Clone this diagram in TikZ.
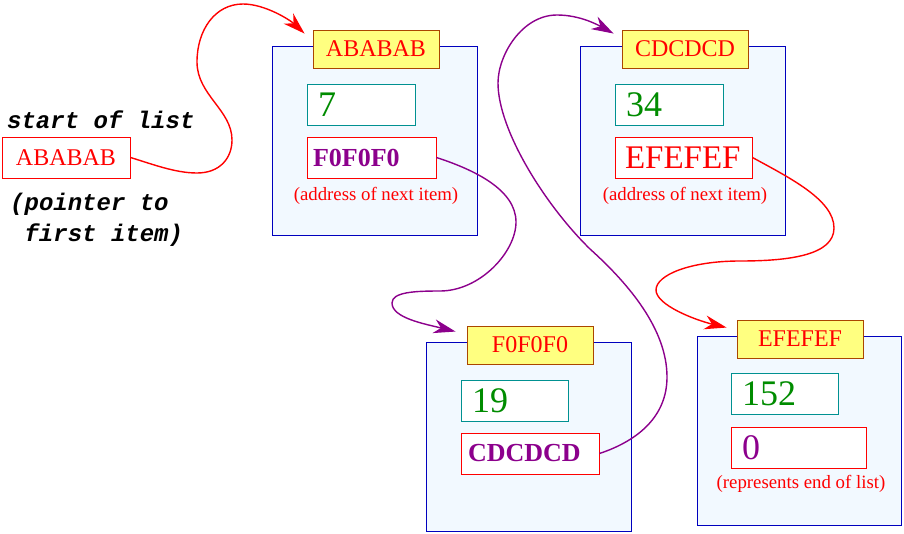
\documentclass[tikz,border=0pt]{standalone}
\usepackage{fontspec}
\setmainfont{Liberation Serif}
\newfontfamily\monofont{Liberation Mono}
\usetikzlibrary{arrows.meta,calc}
\definecolor{boxblue}{RGB}{0,0,190}
\definecolor{boxfill}{RGB}{242,249,255}
\definecolor{labfill}{RGB}{255,255,128}
\definecolor{labborder}{RGB}{170,70,0}
\definecolor{tealc}{RGB}{0,145,145}
\definecolor{valgreen}{RGB}{0,140,0}
\definecolor{ptrpurple}{RGB}{140,0,140}
\begin{document}
\begin{tikzpicture}[x=1pt,y=-1pt,
  outer/.style={draw=boxblue, fill=boxfill, line width=0.9pt, inner sep=0pt, minimum width=205pt, minimum height=189pt},
  lab/.style={draw=labborder, fill=labfill, line width=0.9pt, text=red, font=\fontsize{24pt}{24pt}\selectfont, minimum width=126pt, minimum height=38pt, inner sep=0pt},
  valbox/.style={draw=tealc, fill=white, line width=0.9pt, text=valgreen, font=\fontsize{36pt}{36pt}\selectfont, minimum height=41pt, inner xsep=11pt, inner ysep=0pt, align=left},
  ptrbox/.style={draw=red, fill=white, line width=0.9pt, minimum height=41pt, inner ysep=0pt, align=left},
  bigptr/.style={text=ptrpurple, font=\fontsize{26pt}{26pt}\selectfont\bfseries},
  caption/.style={text=red, font=\fontsize{18.8pt}{19pt}\selectfont, inner sep=0pt, anchor=base},
  mono/.style={font=\monofont\bfseries\itshape\fontsize{24pt}{24pt}\selectfont, inner sep=0pt, anchor=base west},
  conn/.style={line width=1.4pt, -{Stealth[length=22pt,width=14pt,inset=7pt]}},
]
\useasboundingbox (0,0) rectangle (904,533);

% start of list
\node[mono] (t1) at (7,128) {start of list};
\node[ptrbox, minimum width=128pt, text=red, font=\fontsize{24pt}{24pt}\selectfont, align=center, inner xsep=0pt] (start) at (66,157.5) {ABABAB};
\node[mono] (t2) at (10,210) {(pointer to};
\node[mono] (t3) at (24.4,241) {first item)};

% item ABABAB
\node[outer] (o1) at (374.5,140.5) {};
\node[lab] (lab1) at (376,49) {ABABAB};
\node[valbox, text width=86pt] (v1) at (361,104.5) {7};
\node[ptrbox, bigptr, inner xsep=6pt, text width=117pt] (p1) at (371.5,157.5) {F0F0F0};
\node[caption] (c1) at (376,200) {(address of next item)};

% item CDCDCD
\node[outer] (o2) at (683,140.5) {};
\node[lab] (lab2) at (685,49) {CDCDCD};
\node[valbox, text width=86pt] (v2) at (669,104.5) {34};
\node[ptrbox, text=red, font=\fontsize{33pt}{33pt}\selectfont, inner xsep=10pt, text width=117pt] (p2) at (683.5,157.5) {EFEFEF};
\node[caption] (c2) at (685,200) {(address of next item)};

% item F0F0F0
\node[outer] (o3) at (528.5,436.5) {};
\node[lab] (lab3) at (530,345) {F0F0F0};
\node[valbox, text width=85pt] (v3) at (514.5,400.5) {19};
\node[ptrbox, bigptr, inner xsep=7pt, text width=124pt] (p3) at (530,453.5) {CDCDCD};

% item EFEFEF
\node[outer, minimum width=204pt] (o4) at (799,430.5) {};
\node[lab] (lab4) at (800,339) {EFEFEF};
\node[valbox, text width=85pt] (v4) at (784.5,393.5) {152};
\node[ptrbox, text=ptrpurple, font=\fontsize{36pt}{36pt}\selectfont, inner xsep=11pt, text width=113pt] (p4) at (798.5,447.5) {0};
\node[caption] (c4) at (801,488) {(represents end of list)};

% arrow targets
\coordinate (a1) at ($(lab1.north west)+(-8,4)$);
\coordinate (a2) at ($(lab2.north west)+(-8,4)$);
\coordinate (a3) at ($(lab3.north west)+(-11,6)$);
\coordinate (a4) at ($(lab4.north west)+(-10,8)$);

% connectors
\draw[conn, red] (start.east)
  .. controls (152,164) and (175,173) .. (197,173)
  .. controls (220,173) and (232,158) .. (232,140)
  .. controls (232,110) and (197,95) .. (197,62)
  .. controls (197,30) and (215,4) .. (243,4)
  .. controls (265,4) and (290,20) .. (a1);

\draw[conn, ptrpurple] (p1.east)
  .. controls (475,170) and (516,190) .. (516,222)
  .. controls (516,252) and (480,291) .. (440,291)
  .. controls (415,291) and (392,292) .. (392,303)
  .. controls (392,318) and (425,324) .. (a3);

\draw[conn, ptrpurple] (p3.east)
  .. controls (640,440) and (667,415) .. (667,377)
  .. controls (667,330) and (630,285) .. (590,249)
  .. controls (545,205) and (498,130) .. (498,83)
  .. controls (498,55) and (522,15) .. (557,15)
  .. controls (580,15) and (598,25) .. (a2);

\draw[conn, red] (p2.east)
  .. controls (790,178) and (834,200) .. (834,228)
  .. controls (834,255) and (790,261) .. (740,261)
  .. controls (690,261) and (656,275) .. (656,290)
  .. controls (656,305) and (695,320) .. (a4);
\end{tikzpicture}
\end{document}
